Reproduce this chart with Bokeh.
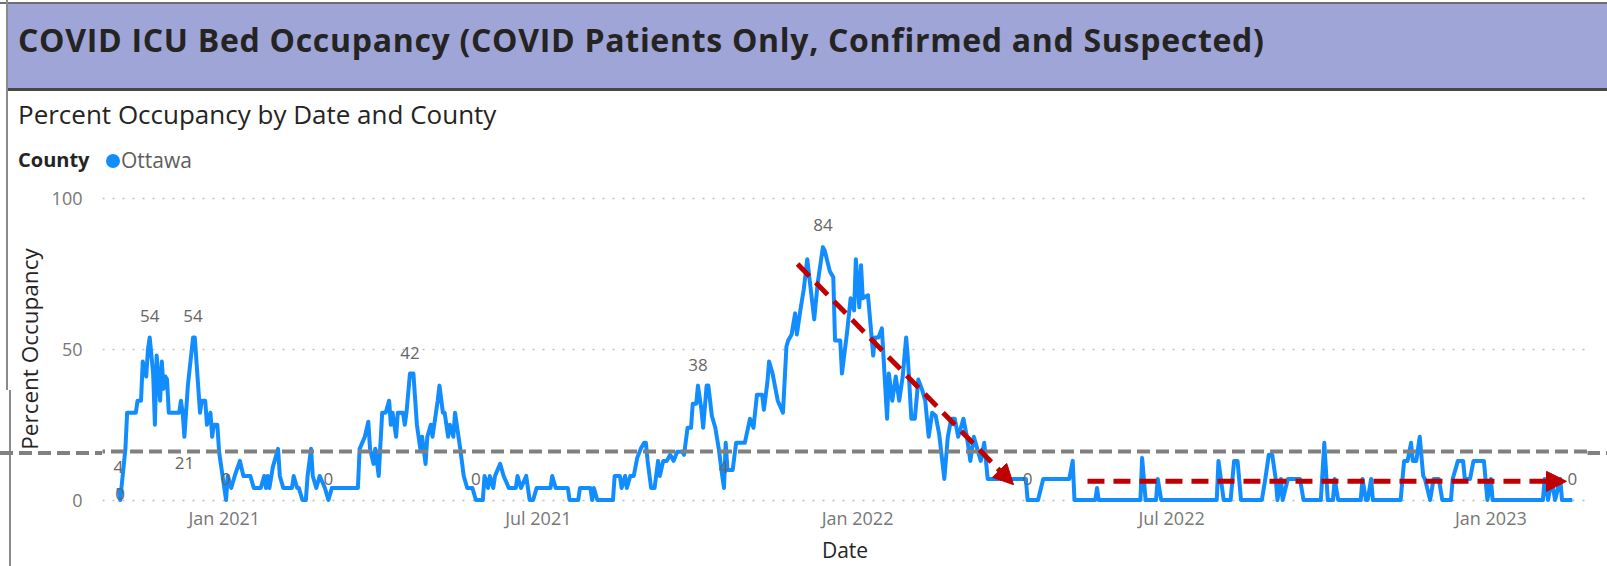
import pandas as pd
from bokeh.plotting import figure
from bokeh.models import (Div, Range1d, FixedTicker, DatetimeTickFormatter, Arrow,
                          NormalHead, ColumnDataSource)
from bokeh.layouts import column
from bokeh.core.properties import value
from bokeh.embed import file_html
from bokeh.resources import INLINE

# ---------------- data ----------------
series_start = "2020-11-01"
day_offsets = [
    0, 1, 4, 5, 10, 11, 13, 14, 16, 17, 18, 20, 21, 22, 24, 25, 26, 27, 28, 29, 35, 36, 37, 38, 40,
    43, 44, 47, 48, 50, 51, 53, 54, 55, 57, 58, 60, 61, 62, 63, 65, 67, 70, 72, 76, 78, 82, 84, 85,
    86, 87, 89, 92, 93, 95, 100, 101, 103, 104, 106, 108, 109, 111, 112, 114, 116,
    119, 121, 123, 138, 139, 142, 144, 145, 147, 148, 150, 152, 154, 156, 157, 158, 160, 161, 164,
    165, 166, 168, 170, 172, 174, 175, 177, 178, 180, 181, 184, 185, 187, 188, 190, 191, 193, 194,
    195, 197, 199, 201, 204, 206, 210, 211, 213, 214, 216, 217, 220, 222, 225, 229, 230, 232, 235,
    236, 237, 239, 241, 249, 250, 252, 259, 260, 265, 266, 272, 273, 274, 276, 285, 286, 289, 290,
    292, 293, 295, 297, 299, 301, 303, 304, 305, 307, 309, 311, 312, 314, 316, 318, 320, 322, 325,
    326, 328, 330, 331, 333, 334, 336, 337, 339, 340, 342, 344, 346, 348, 349, 350, 351, 354, 356,
    361, 364, 366, 368, 371, 372, 374, 375, 377, 380, 383, 385, 386, 388, 390, 391, 393, 395, 397,
    399, 401, 403, 406, 407, 410, 412, 413, 416, 417, 420, 422, 424, 425, 427, 428, 429, 432, 435,
    436, 438, 440, 443, 444, 446, 448, 450, 452, 454, 455, 457, 459, 461, 463, 465, 467, 469,
    471, 473, 476, 478, 480, 482, 484, 487, 489, 491, 493, 495, 497, 499, 501, 523, 524, 530, 533,
    548, 550, 551, 563, 564, 565,
    589, 590, 592, 598, 599, 601, 633, 634, 637, 641, 643, 645, 647, 659, 661, 663, 665, 667, 668,
    670, 671, 674, 681, 683, 693, 695, 697, 700, 701, 703,
    716, 717, 719, 720, 722, 723, 739, 741, 743, 745, 746, 748, 750, 752, 753, 756, 758, 761, 763,
    768, 769, 772, 775, 776, 779, 781, 787, 789, 791, 792, 821, 822, 824, 826, 828, 831, 832, 838,
]
occupancy_pct = [
    4, 0, 17, 29, 29, 33, 33, 46, 41, 50, 54, 42, 25, 48, 33, 46, 37, 41, 40, 29, 29, 33, 29, 21, 38,
    54, 54, 29, 33, 33, 25, 29, 21, 25, 25, 16, 8, 4, 0, 8, 4, 8, 13, 8, 8, 4, 4, 8, 4,
    8, 4, 11, 17, 8, 4, 4, 8, 4, 4, 0, 0, 8, 17, 8, 4, 8,
    4, 0, 4, 4, 17, 21, 26, 17, 12, 17, 8, 29, 29, 33, 25, 29, 21, 29, 29,
    25, 29, 42, 42, 25, 17, 21, 12, 21, 25, 21, 33, 38, 29, 29, 21, 25, 21, 29,
    25, 17, 8, 4, 4, 0, 0, 8, 4, 8, 4, 8, 12, 8, 4, 4, 8, 4, 8,
    4, 0, 0, 4, 4, 8, 4, 4, 0, 0, 4, 4, 0, 4, 0, 0, 8, 8, 4,
    8, 4, 8, 8, 14, 17, 19, 19, 13, 4, 4, 13, 8, 13, 13, 15, 13, 16, 16,
    15, 24, 24, 32, 32, 38, 30, 24, 38, 38, 28, 24, 17, 8, 4, 19, 10, 10, 19,
    19, 27, 24, 35, 35, 30, 39, 46, 42, 33, 29, 51, 53, 55, 62, 55, 63, 70, 80,
    70, 60, 72, 84, 83, 76, 74, 53, 53, 42, 56, 67, 63, 80, 64, 78, 67, 68, 48,
    54, 54, 57, 27, 42, 33, 41, 33, 41, 54, 47, 27, 27, 40, 37, 33, 21, 29,
    28, 22, 7, 21, 27, 27, 21, 27, 21, 13, 21, 17, 13, 19, 7, 7, 0, 0, 7,
    7, 13, 0, 0, 4, 0,
    0, 14, 0, 0, 7, 0, 0, 13, 0, 0, 13, 13, 0, 0, 7, 15, 15, 7, 0,
    7, 0, 7, 7, 0, 0, 19, 0, 0, 7, 0,
    0, 7, 0, 0, 7, 0, 0, 13, 13, 19, 13, 13, 21, 8, 7, 0, 7, 7, 0,
    0, 7, 13, 13, 7, 7, 13, 13, 0, 7, 0, 0, 7, 0, 7, 0, 7, 0, 0,
]
# days (offsets) that carry a data label in the original chart
label_days = [0, 1, 18, 38, 43, 62, 121, 168, 206, 334, 349, 406, 524, 838]
tick_dates = ["2021-01-01", "2021-07-01", "2022-01-01", "2022-07-01", "2023-01-01"]
tick_labels = ["Jan 2021", "Jul 2021", "Jan 2022", "Jul 2022", "Jan 2023"]
reference_line_pct = 16.1

# ---------------- styling ----------------
FONT = "Open Sans"
BLUE = "#118DFF"
start = pd.Timestamp(series_start)


def ms(d):
    return (start + pd.Timedelta(days=d)).value / 1e6


dates = [start + pd.Timedelta(days=d) for d in day_offsets]
lookup = dict(zip(day_offsets, occupancy_pct))
label_values = [lookup[d] for d in label_days]
label_dates = [start + pd.Timedelta(days=d) for d in label_days]
label_text = [str(v) for v in label_values]
label_yoff = [-21, -6, -21, 26, -21, -21, -21, -21, -21, -21, -21, -22, -21, -21]

W = 1607
HEAD_H = 178

dash_css = "repeating-linear-gradient(to right, #808080 0 13px, transparent 13px 19px)"
header_html = f"""
<div style="position:relative;width:{W}px;height:{HEAD_H}px;font-family:'{FONT}';">
  <div style="position:absolute;left:0;top:2px;width:{W}px;height:2px;background:#6E6E6E;"></div>
  <div style="position:absolute;left:6px;top:4px;width:{W - 6}px;height:87px;background:#9FA5D6;
              border-bottom:3px solid #474747;"></div>
  <div style="position:absolute;left:6px;top:0;width:2px;height:390px;background:#8A8A8A;"></div>
  <div style="position:absolute;left:9px;top:390px;width:2px;height:176px;background:#8A8A8A;"></div>
  <div style="position:absolute;left:0;top:451px;width:102px;height:4px;background:{dash_css};"></div>
  <div style="position:absolute;left:1587px;top:451px;width:20px;height:4px;background:{dash_css};"></div>
  <div style="position:absolute;left:18px;top:24px;font-size:32px;line-height:1;font-weight:700;
              letter-spacing:0.7px;color:#252423;white-space:nowrap;">COVID ICU Bed Occupancy (COVID Patients Only, Confirmed and Suspected)</div>
  <div style="position:absolute;left:18px;top:101px;font-size:26px;line-height:1;color:#252423;
              white-space:nowrap;">Percent Occupancy by Date and County</div>
  <div style="position:absolute;left:18px;top:150px;font-size:20px;line-height:1;font-weight:700;
              color:#252423;white-space:nowrap;">County</div>
  <div style="position:absolute;left:106px;top:154px;width:14px;height:14px;border-radius:50%;
              background:{BLUE};"></div>
  <div style="position:absolute;left:121px;top:150px;font-size:21px;line-height:1;color:#605E5C;
              white-space:nowrap;">Ottawa</div>
</div>
"""
header = Div(text=header_html, width=W, height=HEAD_H, margin=0,
             styles={"overflow": "visible", "z-index": "0"})

p = figure(width=W, height=566 - HEAD_H, x_axis_type="datetime",
           x_range=Range1d(ms(-9.2), ms(846.7)), y_range=Range1d(-1.82, 102.15),
           output_backend="svg", toolbar_location=None,
           min_border_left=102, min_border_right=20, min_border_top=14, min_border_bottom=59)
p.margin = 0
p.outline_line_color = None
p.background_fill_color = "white"
p.border_fill_alpha = 0

# grid
p.xgrid.grid_line_color = None
p.ygrid.grid_line_color = "#BDBDBD"
p.ygrid.grid_line_dash = "2 8"
p.ygrid.grid_line_width = 1.5

# y axis
p.yaxis.ticker = FixedTicker(ticks=[0, 50, 100])
p.yaxis.axis_line_color = None
p.yaxis.major_tick_line_color = None
p.yaxis.minor_tick_line_color = None
p.yaxis.major_tick_out = 0
p.yaxis.minor_tick_out = 0
p.yaxis.major_label_standoff = 20
p.yaxis.major_label_text_font = FONT
p.yaxis.major_label_text_font_size = "18px"
p.yaxis.major_label_text_color = "#777777"
p.yaxis.axis_label = "Percent Occupancy"
p.yaxis.axis_label_text_font = FONT
p.yaxis.axis_label_text_font_size = "22.5px"
p.yaxis.axis_label_text_font_style = "normal"
p.yaxis.axis_label_text_color = "#252423"
p.yaxis.axis_label_standoff = 4

# x axis
tick_ms = [pd.Timestamp(t).value / 1e6 for t in tick_dates]
p.xaxis.ticker = FixedTicker(ticks=tick_ms)
fmt = "%b %Y"
p.xaxis.formatter = DatetimeTickFormatter(
    microseconds=fmt, milliseconds=fmt, seconds=fmt, minsec=fmt, minutes=fmt,
    hourmin=fmt, hours=fmt, days=fmt, months=fmt, years=fmt)
p.xaxis.major_label_overrides = {t: lab for t, lab in zip(tick_ms, tick_labels)}
p.xaxis.axis_line_color = None
p.xaxis.major_tick_line_color = None
p.xaxis.minor_tick_line_color = None
p.xaxis.major_tick_out = 0
p.xaxis.minor_tick_out = 0
p.xaxis.major_label_standoff = 0
p.xaxis.major_label_text_font = FONT
p.xaxis.major_label_text_font_size = "18px"
p.xaxis.major_label_text_color = "#777777"
p.xaxis.axis_label = "Date"
p.xaxis.axis_label_text_font = FONT
p.xaxis.axis_label_text_font_size = "21px"
p.xaxis.axis_label_text_font_style = "normal"
p.xaxis.axis_label_text_color = "#252423"
p.xaxis.axis_label_standoff = 3

# series
p.line(dates, occupancy_pct, line_color=BLUE, line_width=4, line_join="round")

# data labels
lab_src = ColumnDataSource(dict(x=label_dates, y=label_values, t=label_text, yo=label_yoff))
p.text(x="x", y="y", text="t", y_offset="yo", source=lab_src, text_align="center",
       text_baseline="middle", text_font=value(FONT), text_font_size="17px",
       text_color="#666666")

# grey dashed reference line
p.add_layout(Arrow(end=None, x_start=ms(-70), y_start=reference_line_pct,
                   x_end=ms(860), y_end=reference_line_pct,
                   line_color="#808080", line_width=4, line_dash="13 6"))

# red dashed annotation arrows
RED = "#C00000"
p.add_layout(Arrow(end=NormalHead(size=20, fill_color=RED, line_color=RED),
                   x_start=ms(391.4), y_start=78.4, x_end=ms(515.9), y_end=5.1,
                   line_color=RED, line_width=5, line_dash="17 9"))
p.add_layout(Arrow(end=NormalHead(size=20, fill_color=RED, line_color=RED),
                   x_start=ms(558.5), y_start=6.2, x_end=ms(834.6), y_end=6.2,
                   line_color=RED, line_width=5, line_dash="17 9"))

layout = column(header, p, spacing=0)
open("out.html", "w").write(file_html(layout, INLINE))
